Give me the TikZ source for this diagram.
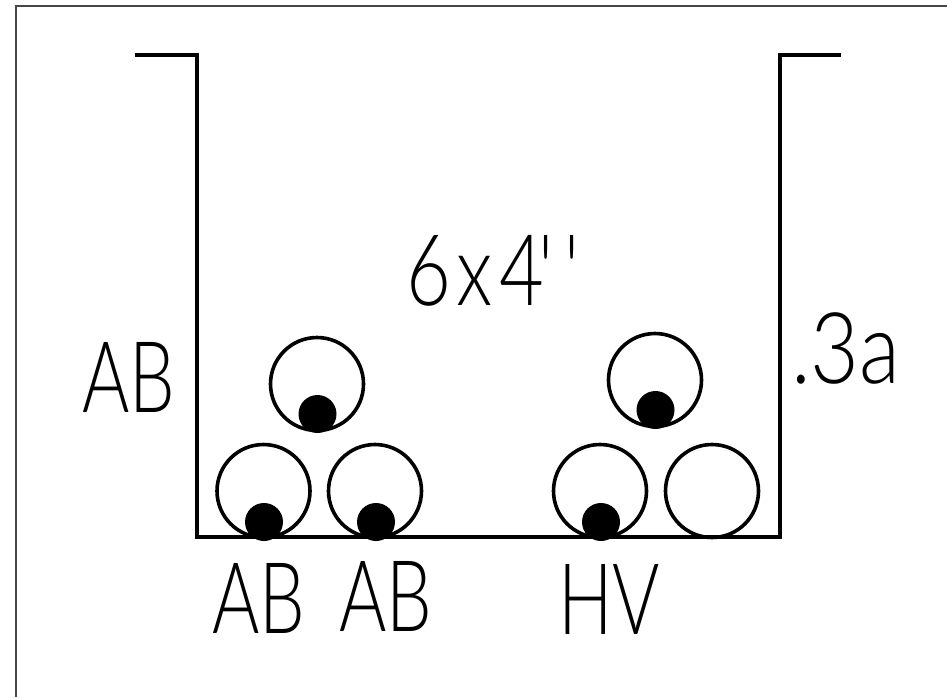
\documentclass[tikz,border=0pt]{standalone}
\usepackage{fontspec}
\setmainfont{Lato Light}
\newfontfamily\lblfont{Lato Light}
\begin{document}
\begin{tikzpicture}[x=1pt,y=-1pt,
  frameline/.style={draw=black!72,line width=2.6pt},
  trayline/.style={draw=black,line width=4pt,line join=miter},
  conduit/.style={draw=black,line width=3.6pt},
  cable/.style={fill=black},
  lbl/.style={inner sep=0pt,anchor=base west,font=\lblfont\fontsize{99}{99}\selectfont}]
\useasboundingbox[fill=white] (0,0) rectangle (947,697);
\draw[frameline] (16,697) -- (16,6) -- (947,6);
\draw[trayline] (135,55) -- (196.5,55) -- (196.5,537) -- (779.5,537) -- (779.5,55) -- (841,55);
\foreach \x/\y in {263.5/491,375/491,317/384,655/380,600/491,712/491}
  \draw[conduit] (\x,\y) circle (46.5);
\foreach \x/\y in {264/522,376/522,317.5/414,655.5/410,601/522}
  \fill[cable] (\x,\y) circle (19);
\node[lbl] (ab) at (82,412) {\scalebox{.73}[1]{AB}};
\node[lbl] (abone) at (212,633) {\scalebox{.73}[1]{AB}};
\node[lbl] (abtwo) at (339,631) {\scalebox{.73}[1]{AB}};
\node[lbl] (hv) at (558,634) {\scalebox{.73}[1]{HV}};
\node[lbl] (sz) at (406,305) {\scalebox{.78}[1]{6\kern7pt x\kern9pt 4\kern-8pt '\kern14pt '}};
\node[lbl] (tag) at (791,383) {\scalebox{.85}[1]{.3a}};
\end{tikzpicture}
\end{document}
